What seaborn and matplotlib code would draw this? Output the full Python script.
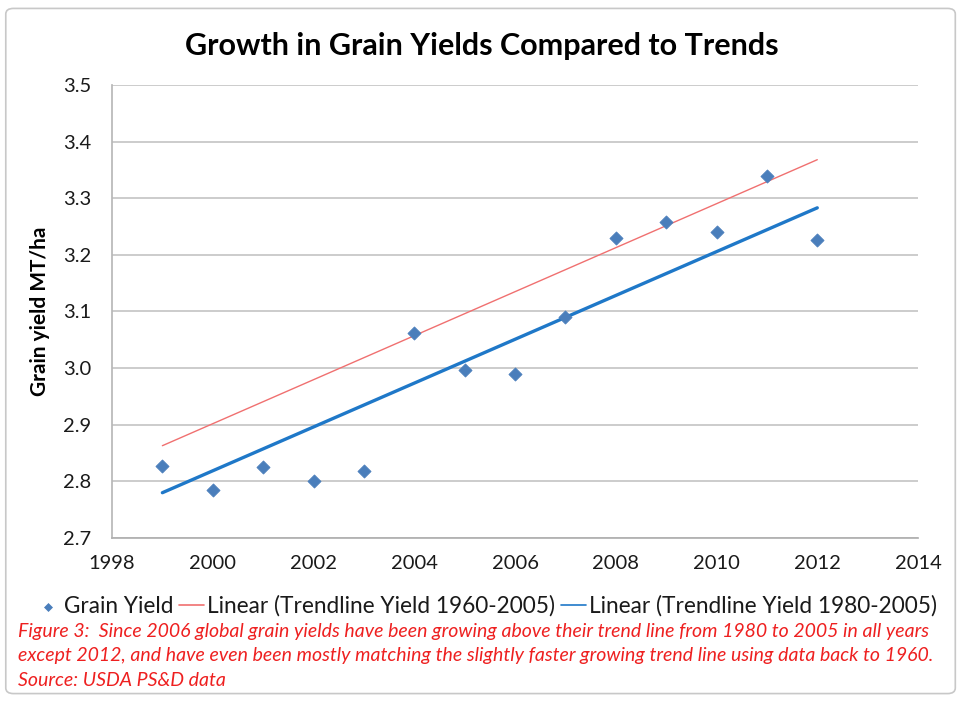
import matplotlib
matplotlib.use("Agg")
import matplotlib.pyplot as plt
import seaborn as sns
import pandas as pd
from matplotlib.patches import FancyBboxPatch

# data
years = [1999, 2000, 2001, 2002, 2003, 2004, 2005, 2006, 2007, 2008, 2009, 2010, 2011, 2012]
grain_yield = [2.828, 2.785, 2.826, 2.801, 2.819, 3.062, 2.997, 2.989, 3.090, 3.229, 3.258, 3.240, 3.340, 3.227]
trend_years = [1999, 2012]
trend_1960 = [2.863, 3.368]
trend_1980 = [2.780, 3.283]

x_ticks = [1998, 2000, 2002, 2004, 2006, 2008, 2010, 2012, 2014]
y_ticks = [2.7, 2.8, 2.9, 3.0, 3.1, 3.2, 3.3, 3.4, 3.5]

pts = pd.DataFrame({"year": years, "yield": grain_yield})
t60 = pd.DataFrame({"year": trend_years, "yield": trend_1960})
t80 = pd.DataFrame({"year": trend_years, "yield": trend_1980})

sns.set_theme(style="white")
plt.rcParams['font.family'] = ['Lato', 'DejaVu Sans']

fig = plt.figure(figsize=(9.63, 7.02), dpi=100)
ax = fig.add_axes([0.1163, 0.2336, 0.837, 0.6454])

# chart border
fig.patches.append(FancyBboxPatch((0.006, 0.012), 0.986, 0.976, boxstyle="round,pad=0,rounding_size=0.008",
                                  transform=fig.transFigure, fill=False, edgecolor="#c8c8c8", linewidth=1.2))

sns.scatterplot(data=pts, x="year", y="yield", ax=ax, marker="D", s=45, color="#4a7ebb",
                edgecolor="#4a7ebb", label="Grain Yield", zorder=4)
sns.lineplot(data=t60, x="year", y="yield", ax=ax, color="#f07070", linewidth=1.0,
             label="Linear (Trendline Yield 1960-2005)", zorder=3)
sns.lineplot(data=t80, x="year", y="yield", ax=ax, color="#1f78c8", linewidth=2.4,
             label="Linear (Trendline Yield 1980-2005)", zorder=3)

ax.set_xlim(1998, 2014)
ax.set_ylim(2.7, 3.5)
ax.set_xticks(x_ticks)
ax.set_yticks(y_ticks)
ax.set_yticklabels([f"{v:.1f}" for v in y_ticks])
ax.grid(axis="y", color="#c4c4c4", linewidth=1.2)
ax.tick_params(axis="both", labelsize=14.5, colors="#1a1a1a", length=7, width=1, color="#b0b0b0", direction="out")
ax.tick_params(axis="x", pad=5)
ax.tick_params(axis="y", pad=8)
for s in ["top", "right"]:
    ax.spines[s].set_visible(False)
ax.spines["left"].set_color("#b8b8b8")
ax.spines["bottom"].set_color("#b0b0b0")
ax.set_xlabel("")
ax.set_ylabel("Grain yield MT/ha", fontsize=15, fontweight="bold", labelpad=9, color="black")

fig.text(0.5, 0.935, "Growth in Grain Yields Compared to Trends", ha="center", va="center",
         fontsize=22, fontweight="bold", color="black")

leg = ax.legend(loc="center", bbox_to_anchor=(0.505, 0.137), bbox_transform=fig.transFigure, ncol=3, frameon=False,
                fontsize=16.3, handlelength=1.1, handletextpad=0.15, columnspacing=0.25, markerscale=0.6)
for line in leg.get_lines():
    line.set_linewidth(1.2)
for t in leg.get_texts():
    t.set_color("#1a1a1a")

caption = ("Figure 3:  Since 2006 global grain yields have been growing above their trend line from 1980 to 2005 in all years\n"
           "except 2012, and have even been mostly matching the slightly faster growing trend line using data back to 1960.\n"
           "Source: USDA PS&D data")
fig.text(0.019, 0.113, caption, ha="left", va="top", fontsize=14, style="italic", color="#ee2020", linespacing=1.55)

fig.savefig("out.png", dpi=100)
